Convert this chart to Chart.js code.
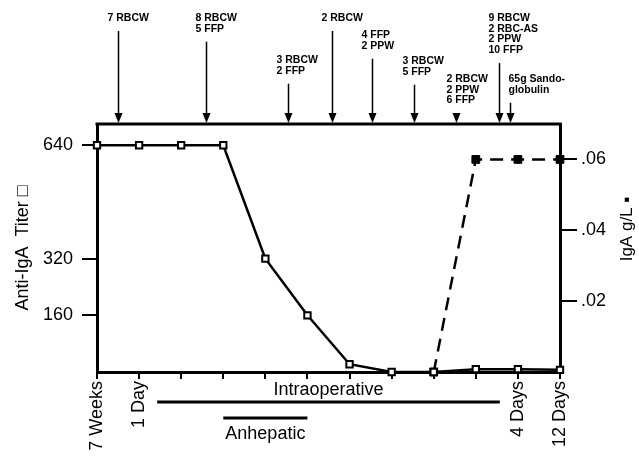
<!DOCTYPE html>
<html>
<head>
<meta charset="utf-8">
<script src="https://cdn.jsdelivr.net/npm/chart.js@4"></script>
<style>
  body { margin: 0; background: #fff; }
</style>
</head>
<body>
<canvas id="graph" width="639" height="460"></canvas>
<script>
const days = ['7 Weeks', '1 Day', '', '', '', '', '', '', '', '', '4 Days', '12 Days'];
const antiIgaTiter = [640, 640, 640, 640, 320, 160, 22, 0, 0, 8, 8, 6];
const igaGramsPerLitre = [null, null, null, null, null, null, null, null, 0, 0.06, 0.06, 0.06];
const titerTicks = [640, 320, 160];
const igaTicks = [0.06, 0.04, 0.02];

// transfusions: where they fall on the time axis (category index) and what was given
const transfusionAt = [0.5, 2.6, 4.53, 5.58, 6.54, 7.54, 8.54, 9.55, 9.81];
const transfusionText = [
  ['7 RBCW'],
  ['8 RBCW', '5 FFP'],
  ['3 RBCW', '2 FFP'],
  ['2 RBCW'],
  ['4 FFP', '2 PPW'],
  ['3 RBCW', '5 FFP'],
  ['2 RBCW', '2 PPW', '6 FFP'],
  ['9 RBCW', '2 RBC-AS', '2 PPW', '10 FFP'],
  ['65g Sando-', 'globulin']
];
const intraoperative = [1.43, 9.57];
const anhepatic = [3, 5];

// stacking of the transfusion notes (y of first line, x shift of the text)
const noteTop = [18, 18, 60, 18, 35, 61, 79, 18, 79];
const noteShift = [-11, -11, -12, -11, -11, -12, -10, -11, -2];

const FONT = '"Liberation Sans", Arial, sans-serif';

const extras = {
  id: 'extras',
  afterDraw(chart) {
    const ctx = chart.ctx;
    const area = chart.chartArea;
    const xs = chart.scales.x;
    ctx.save();
    ctx.strokeStyle = '#000';
    ctx.fillStyle = '#000';

    // top edge of the frame
    ctx.lineWidth = 3;
    ctx.beginPath();
    ctx.moveTo(area.left - 1.5, area.top);
    ctx.lineTo(area.right + 1.5, area.top);
    ctx.stroke();

    // transfusion arrows
    ctx.font = 'bold 10.5px ' + FONT;
    ctx.textBaseline = 'middle';
    ctx.textAlign = 'left';
    transfusionAt.forEach((v, i) => {
      const px = Math.round(xs.getPixelForValue(v)) + 0.5;
      const lines = transfusionText[i];
      lines.forEach((t, j) => ctx.fillText(t, px + noteShift[i], noteTop[i] + j * 10.7));
      const start = noteTop[i] + (lines.length - 1) * 10.7 + 13;
      ctx.lineWidth = 1.5;
      ctx.beginPath();
      ctx.moveTo(px, start);
      ctx.lineTo(px, area.top - 8);
      ctx.stroke();
      ctx.beginPath();
      ctx.moveTo(px - 4, area.top - 11);
      ctx.lineTo(px + 4, area.top - 11);
      ctx.lineTo(px, area.top - 1);
      ctx.closePath();
      ctx.fill();
    });

    // operation periods under the axis
    ctx.font = '18px ' + FONT;
    ctx.textAlign = 'center';
    ctx.lineWidth = 3;
    const a = xs.getPixelForValue(intraoperative[0]), b = xs.getPixelForValue(intraoperative[1]);
    ctx.beginPath();
    ctx.moveTo(a, area.bottom + 30);
    ctx.lineTo(b, area.bottom + 30);
    ctx.stroke();
    ctx.fillText('Intraoperative', (a + b) / 2, area.bottom + 18);
    const c = xs.getPixelForValue(anhepatic[0]), d = xs.getPixelForValue(anhepatic[1]);
    ctx.beginPath();
    ctx.moveTo(c, area.bottom + 46);
    ctx.lineTo(d, area.bottom + 46);
    ctx.stroke();
    ctx.fillText('Anhepatic', (c + d) / 2, area.bottom + 62);

    // right axis title, reading upwards
    ctx.translate(627, 229);
    ctx.rotate(-Math.PI / 2);
    ctx.font = '17px ' + FONT;
    ctx.fillText('IgA g/L \u25AA', 0, 0);
    ctx.restore();
  }
};

const data = {
  labels: days,
  datasets: [
    {
      label: 'Anti-IgA Titer',
      data: antiIgaTiter,
      yAxisID: 'y',
      borderColor: '#000',
      borderWidth: 2.5,
      pointStyle: 'rect',
      pointRadius: 4.5,
      pointBorderWidth: 2,
      pointBackgroundColor: '#fff',
      pointBorderColor: '#000',
      clip: false
    },
    {
      label: 'IgA g/L',
      data: igaGramsPerLitre,
      yAxisID: 'y2',
      borderColor: '#000',
      borderWidth: 2.5,
      borderDash: [13, 8],
      pointStyle: 'rect',
      pointRadius: 5.5,
      pointBorderWidth: 1,
      pointBackgroundColor: '#000',
      pointBorderColor: '#000',
      clip: false
    }
  ]
};

const config = {
  type: 'line',
  data: data,
  options: {
    responsive: false,
    animation: false,
    layout: { padding: { top: 124, left: 0, right: 0, bottom: 0 } },
    plugins: {
      legend: { display: false },
      tooltip: { enabled: false }
    },
    scales: {
      x: {
        afterFit: s => { s.height = 88; },
        grid: { drawOnChartArea: false, color: '#000', lineWidth: 2, tickLength: 7 },
        border: { color: '#000', width: 3 },
        ticks: {
          autoSkip: false, minRotation: 90, maxRotation: 90, padding: 2,
          color: '#000', font: { family: FONT, size: 18 }
        }
      },
      y: {
        position: 'left',
        min: 0,
        max: 700,
        afterFit: s => { s.width = 97; },
        afterBuildTicks: s => { s.ticks = titerTicks.map(v => ({ value: v })); },
        grid: { drawOnChartArea: false, color: '#000', lineWidth: 2, tickLength: 15 },
        border: { color: '#000', width: 3 },
        ticks: { padding: 9, color: '#000', font: { family: FONT, size: 18 } },
        title: {
          display: true,
          text: 'Anti-IgA  Titer \u25A1',
          color: '#000',
          padding: { top: 12, bottom: 0 },
          font: { family: FONT, size: 18 }
        }
      },
      y2: {
        position: 'right',
        min: 0,
        max: 0.07,
        afterFit: s => { s.width = 79; },
        afterBuildTicks: s => { s.ticks = igaTicks.map(v => ({ value: v })); },
        grid: { drawOnChartArea: false, color: '#000', lineWidth: 2, tickLength: 17 },
        border: { color: '#000', width: 3 },
        ticks: {
          padding: 4, color: '#000', font: { family: FONT, size: 18 },
          callback: v => v.toFixed(2).replace(/^0/, '')
        }
      }
    }
  },
  plugins: [extras]
};

const chart = new Chart(document.querySelector('#graph'), config);
</script>
</body>
</html>
